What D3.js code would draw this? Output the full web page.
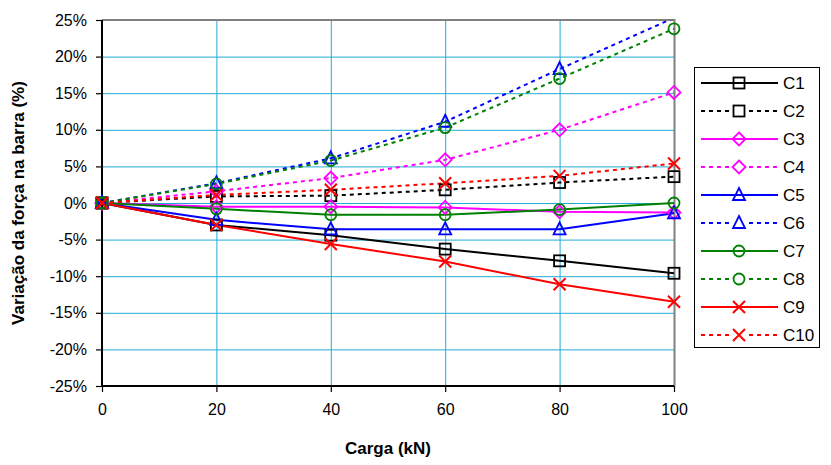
<!DOCTYPE html>
<html><head><meta charset="utf-8">
<script src="https://cdn.jsdelivr.net/npm/d3@7"></script>
<style>body{margin:0;background:#fff}text{font-family:Arial,"Liberation Sans",sans-serif}</style>
</head><body><svg id="c" width="831" height="465"></svg>
<script>
const loads = [0, 20, 40, 60, 80, 100];
const xTicks = [0, 20, 40, 60, 80, 100];
const yTicks = [-25, -20, -15, -10, -5, 0, 5, 10, 15, 20, 25];
const seriesNames = ["C1","C2","C3","C4","C5","C6","C7","C8","C9","C10"];
const C1 = [0, -3.0, -4.4, -6.3, -7.9, -9.6];
const C2 = [0, 0.9, 1.0, 1.8, 2.8, 3.6];
const C3 = [0, -0.5, -0.5, -0.6, -1.2, -1.3];
const C4 = [0, 1.6, 3.4, 5.9, 10.0, 15.1];
const C5 = [0, -2.3, -3.6, -3.6, -3.6, -1.4];
const C6 = [0, 2.7, 6.1, 11.1, 18.3, 25.3];
const C7 = [0, -0.8, -1.6, -1.6, -0.9, 0.0];
const C8 = [0, 2.6, 5.8, 10.3, 17.0, 23.8];
const C9 = [0, -3.0, -5.6, -8.0, -11.1, -13.5];
const C10 = [0, 1.1, 1.8, 2.7, 3.7, 5.4];
const seriesValues = [C1,C2,C3,C4,C5,C6,C7,C8,C9,C10];
const colors = ["#000000","#000000","#ff00ff","#ff00ff","#0000ff","#0000ff","#008000","#008000","#ff0000","#ff0000"];
const dashed = [false,true,false,true,false,true,false,true,false,true];
const markers = ["square","square","diamond","diamond","triangle","triangle","circle","circle","x","x"];

const svg = d3.select("#c");
const L = 102, R = 674, T = 20, B = 386;
const x = d3.scaleLinear().domain([0,100]).range([L,R]);
const y = d3.scaleLinear().domain([-25,25]).range([B,T]);
const gridColor = "#22acd6";

svg.append("defs").append("clipPath").attr("id","clip").append("rect")
  .attr("x",L-10).attr("y",T).attr("width",R-L+20).attr("height",B-T+10);

// grid
svg.append("g").selectAll("line").data(yTicks.slice(1)).join("line")
  .attr("x1",L).attr("x2",R).attr("y1",d=>y(d)+0.5).attr("y2",d=>y(d)+0.5)
  .attr("stroke",gridColor).attr("stroke-width",1);
svg.append("g").selectAll("line").data(xTicks.slice(1,-1)).join("line")
  .attr("y1",T).attr("y2",B).attr("x1",d=>x(d)+0.5).attr("x2",d=>x(d)+0.5)
  .attr("stroke",gridColor).attr("stroke-width",1);
// gray top/right border
svg.append("path").attr("d",`M${L},${T}H${R+0.5}V${B}`).attr("fill","none").attr("stroke","#808080").attr("stroke-width",2);

// axes
const yAxis = d3.axisLeft(y).tickValues(yTicks).tickFormat(d=>d+"%").tickSize(6).tickPadding(9);
const gy = svg.append("g").attr("transform",`translate(${L},0)`).call(yAxis);
const xAxis = d3.axisBottom(x).tickValues(xTicks).tickSize(6).tickPadding(12);
const gx = svg.append("g").attr("transform",`translate(0,${B})`).call(xAxis);
[gy,gx].forEach(g=>{
  g.select(".domain").attr("stroke","#000").attr("stroke-width",2);
  g.selectAll(".tick line").attr("stroke","#000").attr("stroke-width",1.2);
  g.selectAll(".tick text").attr("fill","#000").style("font-size","16px").style("font-family","Arial, 'Liberation Sans', sans-serif");
});
gy.select(".domain").attr("d",`M0,${T}V${B}`);
gx.select(".domain").attr("d",`M${L},0H${R}`);

// titles
svg.append("text").attr("x",388).attr("y",454).attr("text-anchor","middle")
  .style("font-size","17px").style("font-weight","bold").text("Carga (kN)");
svg.append("text").attr("transform",`translate(24,203) rotate(-90)`).attr("text-anchor","middle")
  .style("font-size","17px").style("font-weight","bold").text("Variação da força na barra (%)");

function drawMarker(g, type, cx, cy, color){
  const s = 5.5;
  if(type==="square") g.append("rect").attr("x",cx-s).attr("y",cy-s).attr("width",2*s).attr("height",2*s).attr("fill","none").attr("stroke",color).attr("stroke-width",1.8);
  else if(type==="diamond") g.append("path").attr("d",`M${cx},${cy-6.5}L${cx+6.5},${cy}L${cx},${cy+6.5}L${cx-6.5},${cy}Z`).attr("fill","none").attr("stroke",color).attr("stroke-width",1.8);
  else if(type==="triangle") g.append("path").attr("d",`M${cx},${cy-7}L${cx+6},${cy+5}L${cx-6},${cy+5}Z`).attr("fill","none").attr("stroke",color).attr("stroke-width",1.8);
  else if(type==="circle") g.append("circle").attr("cx",cx).attr("cy",cy).attr("r",5.5).attr("fill","none").attr("stroke",color).attr("stroke-width",1.8);
  else if(type==="x") g.append("path").attr("d",`M${cx-6},${cy-6}L${cx+6},${cy+6}M${cx+6},${cy-6}L${cx-6},${cy+6}`).attr("fill","none").attr("stroke",color).attr("stroke-width",2);
}

const line = d3.line().x((d,i)=>x(loads[i])).y(d=>y(d));
const plot = svg.append("g").attr("clip-path","url(#clip)");
seriesValues.forEach((vals,k)=>{
  plot.append("path").attr("d",line(vals)).attr("fill","none").attr("stroke",colors[k])
    .attr("stroke-width",2).attr("stroke-dasharray",dashed[k]?"4,4":null);
});
seriesValues.forEach((vals,k)=>{
  const g = plot.append("g");
  vals.forEach((v,i)=>{ if(v<=25) drawMarker(g, markers[k], x(loads[i]), y(v), colors[k]); });
});

// legend
const lg = svg.append("g");
lg.append("rect").attr("x",694.5).attr("y",67.5).attr("width",125).attr("height",280).attr("fill","#fff").attr("stroke","#000").attr("stroke-width",1);
seriesNames.forEach((n,k)=>{
  const yy = 83 + k*28;
  lg.append("line").attr("x1",701).attr("x2",778).attr("y1",yy).attr("y2",yy).attr("stroke",colors[k]).attr("stroke-width",2).attr("stroke-dasharray",dashed[k]?"4,4":null);
  if(dashed[k]){
    lg.append("rect").attr("x",733).attr("y",yy-7).attr("width",12).attr("height",14).attr("fill","#fff");
  }
  drawMarker(lg, markers[k], 739, yy, colors[k]);
  lg.append("text").attr("x",783).attr("y",yy+6).style("font-size","17px").text(n);
});
</script></body></html>
